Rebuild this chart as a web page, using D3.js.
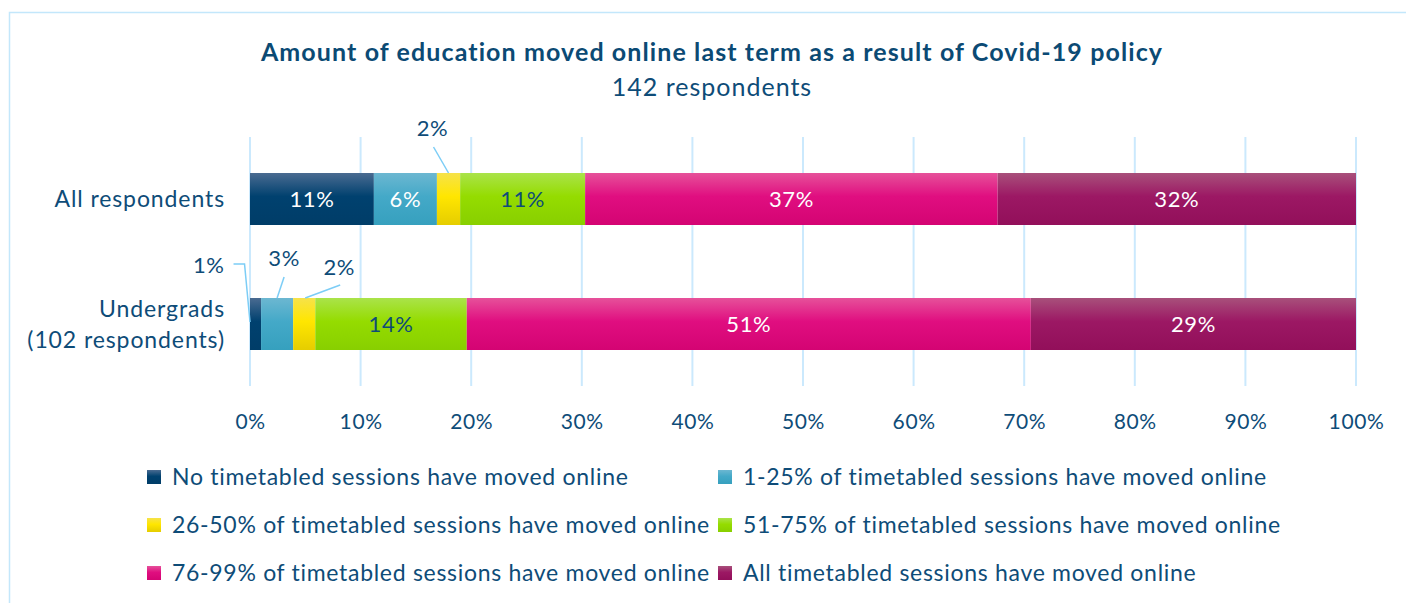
<!DOCTYPE html>
<html>
<head>
<meta charset="utf-8">
<script src="https://cdn.jsdelivr.net/npm/d3@7"></script>
<style>
  body { margin: 0; background: #fff; }
  svg { display: block; font-family: Lato, "Open Sans", sans-serif; }
</style>
</head>
<body>
<svg id="chart" width="1406" height="603"></svg>
<script>
// data
const categories = ["All respondents", "Undergrads (102 respondents)"];
const seriesNames = [
  "No timetabled sessions have moved online",
  "1-25% of timetabled sessions have moved online",
  "26-50% of timetabled sessions have moved online",
  "51-75% of timetabled sessions have moved online",
  "76-99% of timetabled sessions have moved online",
  "All timetabled sessions have moved online"
];
const noneOnline   = [11.2, 1.0];
const upTo25       = [5.7, 2.9];
const upTo50       = [2.1, 2.0];
const upTo75       = [11.3, 13.7];
const upTo99       = [37.3, 51.0];
const allOnline    = [32.4, 29.4];
const xTicks = [0, 10, 20, 30, 40, 50, 60, 70, 80, 90, 100];

const seriesValues = [noneOnline, upTo25, upTo50, upTo75, upTo99, allOnline];
const colors = [
  ["#4a6b91", "#00416f", "#003d68"],
  ["#6cb7d1", "#44a9c8", "#36a0be"],
  ["#f6e24a", "#ffe600", "#e5cd00"],
  ["#aae34a", "#95dc00", "#88cf00"],
  ["#e6519a", "#e00e80", "#d40473"],
  ["#a8507b", "#9c1864", "#920f5a"]
];
const labelColors = ["#fff", "#fff", "#0e4c78", "#0e4c78", "#fff", "#fff"];
const textColor = "#0e4c78";

const svg = d3.select("#chart");

// outer frame
svg.append("rect")
  .attr("x", 9.5).attr("y", 12.5)
  .attr("width", 1420).attr("height", 620)
  .attr("fill", "none")
  .attr("stroke", "#c3e7fb")
  .attr("stroke-width", 1.5);

const defs = svg.append("defs");
colors.forEach((c, i) => {
  const g = defs.append("linearGradient")
    .attr("id", "grad" + i)
    .attr("x1", 0).attr("y1", 0).attr("x2", 0).attr("y2", 1);
  g.append("stop").attr("offset", "0%").attr("stop-color", c[0]);
  g.append("stop").attr("offset", "45%").attr("stop-color", c[1]);
  g.append("stop").attr("offset", "100%").attr("stop-color", c[2]);
});

// title
svg.append("text")
  .attr("x", 712).attr("y", 61)
  .attr("text-anchor", "middle")
  .attr("fill", "#0b4a74")
  .style("font-size", "25px")
  .style("font-weight", "bold")
  .style("letter-spacing", "1.1px")
  .text("Amount of education moved online last term as a result of Covid-19 policy");

svg.append("text")
  .attr("x", 712).attr("y", 96)
  .attr("text-anchor", "middle")
  .attr("fill", textColor)
  .style("font-size", "25px")
  .style("letter-spacing", "1px")
  .text("142 respondents");

const x = d3.scaleLinear().domain([0, 100]).range([250, 1356]);
const y = d3.scaleBand().domain(categories).range([136, 387])
  .paddingInner(0.584).paddingOuter(0.296);

// gridlines
svg.append("g")
  .selectAll("line")
  .data(xTicks)
  .join("line")
  .attr("x1", d => x(d)).attr("x2", d => x(d))
  .attr("y1", 137).attr("y2", 386)
  .attr("stroke", "#cbe9fd")
  .attr("stroke-width", 2);

// x axis labels
const xAxis = svg.append("g")
  .attr("transform", "translate(0,386)")
  .call(d3.axisBottom(x).tickValues(xTicks).tickFormat(d => d + "%").tickSize(0).tickPadding(28));
xAxis.select(".domain").remove();
xAxis.selectAll("text")
  .attr("fill", textColor)
  .style("font-size", "21px")
  .style("letter-spacing", "0.6px")
  .style("font-family", "Lato, sans-serif");

// category labels
const catLines = {
  "All respondents": ["All respondents"],
  "Undergrads (102 respondents)": ["Undergrads", "(102 respondents)"]
};
categories.forEach(c => {
  const lines = catLines[c];
  const cy = y(c) + y.bandwidth() / 2;
  const t = svg.append("text")
    .attr("x", 225)
    .attr("text-anchor", "end")
    .attr("fill", textColor)
    .style("font-size", "23px")
    .style("letter-spacing", "0.9px");
  lines.forEach((l, i) => {
    t.append("tspan")
      .attr("x", 225)
      .attr("y", cy + (i - (lines.length - 1) / 2) * 31)
      .attr("dy", "0.35em")
      .text(l);
  });
});

// stack
const rows = categories.map((c, ci) => {
  const r = { category: c };
  seriesNames.forEach((s, si) => { r[s] = seriesValues[si][ci]; });
  return r;
});
const stacked = d3.stack().keys(seriesNames)(rows);

const fmt = d3.format(".0f");
const segs = [];
stacked.forEach((layer, si) => {
  layer.forEach(d => {
    segs.push({ si, category: d.data.category, x0: d[0], x1: d[1], value: d[1] - d[0] });
  });
});

svg.append("g")
  .selectAll("rect")
  .data(segs)
  .join("rect")
  .attr("x", d => x(d.x0))
  .attr("y", d => y(d.category))
  .attr("width", d => x(d.x1) - x(d.x0))
  .attr("height", y.bandwidth())
  .attr("fill", d => `url(#grad${d.si})`);

// labels inside wide segments
const inside = segs.filter(d => d.value >= 4);
svg.append("g")
  .selectAll("text")
  .data(inside)
  .join("text")
  .attr("x", d => (x(d.x0) + x(d.x1)) / 2)
  .attr("y", d => y(d.category) + y.bandwidth() / 2)
  .attr("dy", "0.35em")
  .attr("text-anchor", "middle")
  .attr("fill", d => labelColors[d.si])
  .style("font-size", "22px")
  .style("letter-spacing", "0.6px")
  .text(d => fmt(d.value) + "%");

// callout labels for small segments (offsets relative to segment)
const callouts = {
  "All respondents|2": { lx: -16, ly: -45, path: (cx, top) => [[cx - 15, top - 26], [cx, top]], anchor: "middle" },
  "Undergrads (102 respondents)|0": { lx: -31, ly: -33, path: (cx, top, mid, left) => [[cx - 22, top - 34], [cx - 11, top - 34], [left, mid - 2]], anchor: "end" },
  "Undergrads (102 respondents)|1": { lx: 7, ly: -40, path: (cx, top) => [[cx + 7, top - 21], [cx, top]], anchor: "middle" },
  "Undergrads (102 respondents)|2": { lx: 35, ly: -31, path: (cx, top) => [[cx + 36, top - 13], [cx + 1, top]], anchor: "middle" }
};
const outside = segs.filter(d => d.value < 4);
outside.forEach(d => {
  const c = callouts[d.category + "|" + d.si];
  if (!c) return;
  const cx = (x(d.x0) + x(d.x1)) / 2;
  const top = y(d.category);
  const mid = top + y.bandwidth() / 2;
  const left = x(d.x0);
  svg.append("path")
    .attr("d", d3.line()(c.path(cx, top, mid, left)))
    .attr("fill", "none")
    .attr("stroke", "#7ccdf6")
    .attr("stroke-width", 1.5);
  svg.append("text")
    .attr("x", cx + c.lx)
    .attr("y", top + c.ly)
    .attr("dy", "0.35em")
    .attr("text-anchor", c.anchor)
    .attr("fill", textColor)
    .style("font-size", "22px")
    .style("letter-spacing", "0.6px")
    .text(fmt(d.value) + "%");
});

// legend
const legendPos = [
  [147, 477], [718, 477],
  [147, 525], [718, 525],
  [147, 573], [718, 573]
];
const legend = svg.append("g")
  .selectAll("g")
  .data(seriesNames)
  .join("g")
  .attr("transform", (d, i) => `translate(${legendPos[i][0]},${legendPos[i][1]})`);
legend.append("rect")
  .attr("x", 0).attr("y", -7)
  .attr("width", 14).attr("height", 14)
  .attr("fill", (d, i) => `url(#grad${i})`);
legend.append("text")
  .attr("x", 25).attr("y", 0)
  .attr("dy", "0.35em")
  .attr("fill", textColor)
  .style("font-size", "23px")
  .style("letter-spacing", "0.7px")
  .text(d => d);
</script>
</body>
</html>
